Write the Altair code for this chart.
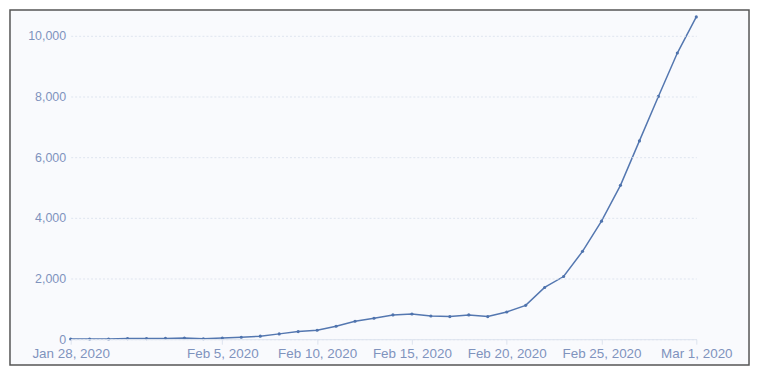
import altair as alt
import pandas as pd

dates = pd.date_range("2020-01-28", "2020-03-01", freq="D").strftime("%Y-%m-%d").tolist()
cases = [5, 5, 5, 20, 20, 25, 40, 15, 40, 65, 100, 175, 250, 295, 425, 590, 690,
         800, 830, 765, 745, 800, 745, 895, 1115, 1705, 2065, 2895, 3890, 5070,
         6535, 8000, 9430, 10620]
tick_dates = ["2020-01-28", "2020-02-05", "2020-02-10", "2020-02-15",
              "2020-02-20", "2020-02-25", "2020-03-01"]
y_ticks = [0, 2000, 4000, 6000, 8000, 10000]

df = pd.DataFrame({"date": dates, "cases": cases})

lab = "#7f93bd"
x = alt.X("date:T", title=None,
          scale=alt.Scale(domain=["2020-01-28", "2020-03-01"]),
          axis=alt.Axis(values=tick_dates, format="%b %-d, %Y", labelColor=lab,
                        labelFontSize=13.5, labelFont="Liberation Sans", grid=False,
                        domainColor="#dde3ee", tickColor="#dde3ee", tickSize=5,
                        labelPadding=2, labelOverlap=False, labelFlush=False, zindex=1))
y = alt.Y("cases:Q", title=None,
          scale=alt.Scale(domain=[0, 10620], nice=False),
          axis=alt.Axis(values=y_ticks, format=",d", labelColor=lab, labelFontSize=12.5,
                        labelFont="Liberation Sans", domain=False, ticks=False,
                        labelPadding=5, gridColor="#dfe5ef", gridDash=[2, 2], zindex=1))

frame = alt.Chart(pd.DataFrame({"a": [0]})).mark_rect(
    fill="#f9fafd", stroke="#555555", strokeWidth=1.5
).encode(x=alt.value(-61), x2=alt.value(682), y=alt.value(-7), y2=alt.value(350))

line = alt.Chart(df).mark_line(color="#5477b0", strokeWidth=1.5).encode(x=x, y=y)
pts = alt.Chart(df).mark_circle(color="#4f73ad", size=10, opacity=1).encode(x=x, y=y)

chart = alt.layer(frame, line, pts).properties(
    width=629, height=324,
    autosize=alt.AutoSizeParams(type="none"),
    padding={"left": 63, "top": 8, "right": 55, "bottom": 28},
    background="white"
).configure_view(stroke=None)

chart.save("out.html", embed_options={"renderer": "svg", "actions": False})
